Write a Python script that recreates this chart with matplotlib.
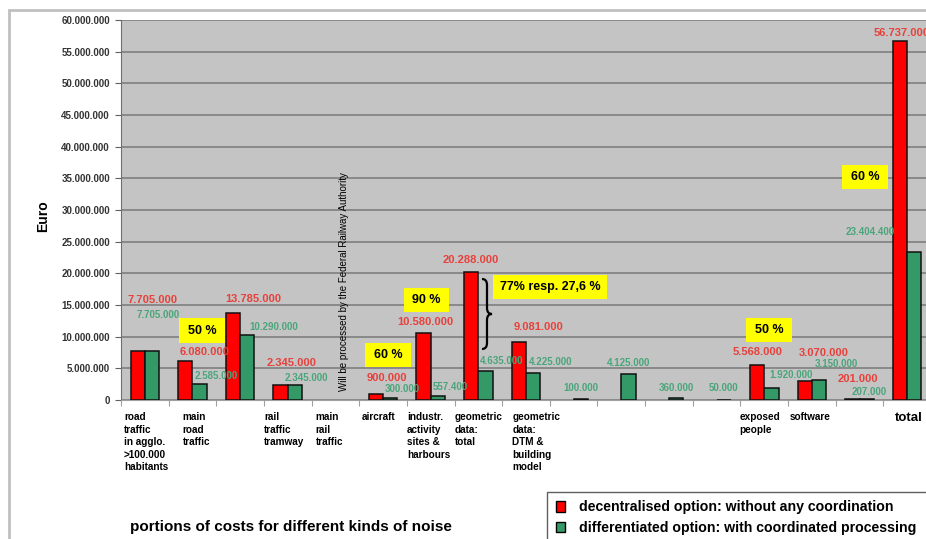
import matplotlib.pyplot as plt
from matplotlib.patches import Rectangle, PathPatch
from matplotlib.path import Path
import numpy as np

plt.rcParams['font.family'] = ['Liberation Sans', 'DejaVu Sans']

# Kosten je Lärmart (Euro)
categories = ['road\ntraffic\nin agglo.\n>100.000\nhabitants', 'main\nroad\ntraffic', '',
              'rail\ntraffic\ntramway', 'main\nrail\ntraffic', 'aircraft',
              'industr.\nactivity\nsites &\nharbours', 'geometric\ndata:\ntotal',
              'geometric\ndata:\nDTM &\nbuilding\nmodel', '', '', '', '',
              'exposed\npeople', 'software', '', 'total']
decentral = [7705000, 6080000, 13785000, 2345000, None, 900000, 10580000, 20288000,
             9081000, None, None, None, None, 5568000, 3070000, 201000, 56737000]
differentiated = [7705000, 2585000, 10290000, 2345000, None, 300000, 557400, 4635000,
                  4225000, 100000, 4125000, 360000, 50000, 1920000, 3150000, 207000, 23404400]
yticks = list(range(0, 60000001, 5000000))

# label offsets in pixels from the bar top
red_off = [(15, 51), (19, 9), (20, 14), (11, 22), None, (11, 16), (1.5, 11), (0, 12), (20, 15),
           None, None, None, None, (0, 13), (19, 28), (5, 20), (2, 8)]
green_off = [(6.5, 36), (17, 8), (26, 8), (11, 7), None, (12, 9), (12, 9.5), (16, 10), (17, 11),
             (0, 11), (0, 11), (0, 10), (0, 12), (20, 13), (17, 16), (3, 7), (-44, 20)]
cat_dx = [3, 14, 0, 0, 4, 3, 0, 0, 10, 0, 0, 0, 0, -1, 2, 0, 12]

W, H = 926, 539


def fx(px):
    return px / W


def fy(py):
    return 1 - py / H


def fmt(v):
    return f'{v:,.0f}'.replace(',', '.')


fig = plt.figure(figsize=(9.26, 5.39), dpi=100)
fig.add_artist(Rectangle((fx(9), fy(600)), fx(1000), 590 / H, transform=fig.transFigure,
                         fc='white', ec='#c0c0c0', lw=2, zorder=-5))

ax = fig.add_axes([fx(121), fy(400), fx(810), 380 / H])
ax.set_facecolor('#c4c4c4')

n = len(categories)
x = np.arange(n)
w = 0.30

red_color = '#ff0000'
green_color = '#339966'

for i in range(n):
    if decentral[i] is not None:
        ax.bar(x[i] - w / 2, decentral[i], w, color=red_color, edgecolor='#101010', lw=1.1, zorder=3)
        dx, dy = red_off[i]
        ax.annotate(fmt(decentral[i]), (x[i] - w / 2, decentral[i]), xytext=(dx, dy),
                    textcoords='offset pixels', ha='center', va='center',
                    fontsize=8, fontweight='bold', color='#e8403a', zorder=4)
    if differentiated[i] is not None:
        ax.bar(x[i] + w / 2, differentiated[i], w, color=green_color, edgecolor='#101010', lw=1.1, zorder=3)
        dx, dy = green_off[i]
        ax.annotate(fmt(differentiated[i]), (x[i] + w / 2, differentiated[i]), xytext=(dx, dy),
                    textcoords='offset pixels', ha='center', va='center',
                    fontsize=7, fontweight='bold', color='#4aa57a', zorder=4)

ax.set_xlim(-0.5, n - 0.5)
ax.set_ylim(0, 60000000)
ax.set_yticks(yticks)
ax.set_yticklabels([fmt(v) for v in yticks], fontsize=7, fontweight='bold', color='#333333')
ax.set_xticks(np.arange(n + 1) - 0.5)
ax.set_xticklabels([])
ax.tick_params(axis='y', length=4, color='#606060', pad=4)
ax.tick_params(axis='x', length=4, color='#a0a0a0')
ax.yaxis.grid(True, color='#7f7f7f', lw=1.2, zorder=1)
ax.set_axisbelow(True)
for s in ['top', 'right']:
    ax.spines[s].set_visible(False)
ax.spines['left'].set_color('#707070')
ax.spines['bottom'].set_color('#a0a0a0')
ax.set_ylabel('Euro', fontsize=10, fontweight='bold', labelpad=6)
ax.yaxis.set_label_coords(-(121 - 50) / 810, 0.485)

# category names below the axis
for i, name in enumerate(categories):
    if not name:
        continue
    big = name == 'total'
    ax.annotate(name, (x[i] - 0.5, 0), xytext=(cat_dx[i], -12), textcoords='offset pixels',
                ha='left', va='top', fontsize=9.5 if big else 7.2, fontweight='bold',
                linespacing=1.32, annotation_clip=False)

# note for main rail traffic
fig.text(fx(344), fy(282), 'Will be processed by the Federal Railway Authority', rotation=90,
         ha='center', va='center', fontsize=7)

# yellow percentage boxes
boxes = [('50 %', 179, 318, 46, 25), ('60 %', 365, 343, 46, 24), ('90 %', 404, 288, 45, 24),
         ('77% resp. 27,6 %', 493, 275, 114, 24), ('50 %', 746, 318, 46, 24), ('60 %', 842, 165, 46, 24)]
for txt, bx, by, bw, bh in boxes:
    fig.add_artist(Rectangle((fx(bx), fy(by + bh)), bw / W, bh / H, transform=fig.transFigure,
                             fc='#ffff00', ec='none', zorder=5))
    fig.text(fx(bx + bw / 2), fy(by + bh / 2), txt, ha='center', va='center',
             fontsize=9, fontweight='bold', zorder=6)

# curly brace next to geometric data
x0, xm, x1 = 482, 487, 492
yt, ymid, yb = 279, 314, 349
r = 6
verts = [(x0, yt), (xm, yt), (xm, yt + r), (xm, ymid - r), (xm, ymid), (x1, ymid),
         (xm, ymid), (xm, ymid + r), (xm, yb - r), (xm, yb), (x0, yb)]
codes = [Path.MOVETO, Path.CURVE3, Path.CURVE3, Path.LINETO, Path.CURVE3, Path.CURVE3,
         Path.CURVE3, Path.CURVE3, Path.LINETO, Path.CURVE3, Path.CURVE3]
verts = [(fx(a), fy(b)) for a, b in verts]
fig.add_artist(PathPatch(Path(verts, codes), transform=fig.transFigure, fc='none',
                         ec='black', lw=1.6, zorder=6))

fig.text(fx(130), fy(527), 'portions of costs for different kinds of noise', ha='left', va='center',
         fontsize=11, fontweight='bold')

# legend box runs off the lower right corner
fig.add_artist(Rectangle((fx(547), fy(650)), fx(500), 158 / H, transform=fig.transFigure,
                         fc='white', ec='#606060', lw=1, zorder=4))
handles = [Rectangle((0, 0), 1, 1, fc=red_color, ec='black', lw=1),
           Rectangle((0, 0), 1, 1, fc=green_color, ec='black', lw=1)]
leg = fig.legend(handles, ['decentralised option: without any coordination',
                           'differentiated option: with coordinated processing'],
                 loc='upper left', bbox_to_anchor=(fx(555), fy(499)),
                 prop={'size': 10.2, 'weight': 'bold'}, frameon=False,
                 handlelength=0.6, handleheight=0.75, handletextpad=1.0,
                 labelspacing=0.45, borderpad=0.1, borderaxespad=0)
leg.set_zorder(5)

plt.savefig('out.png', dpi=100)
